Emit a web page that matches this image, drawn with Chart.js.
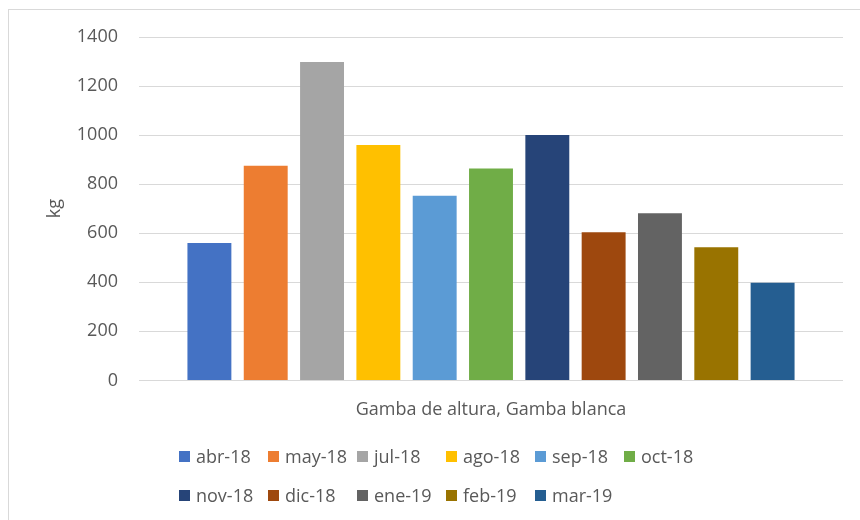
<!DOCTYPE html>
<html>
<head>
<meta charset="utf-8">
<script src="https://cdn.jsdelivr.net/npm/chart.js@4.4.1/dist/chart.umd.min.js"></script>
<style>
  html, body { margin: 0; padding: 0; background: #fff; }
  #wrap { position: relative; width: 860px; height: 520px; overflow: hidden; }
  #frame {
    position: absolute; left: 8px; top: 9px; width: 900px; height: 600px;
    border-left: 1px solid #d9d9d9; border-top: 1px solid #d9d9d9;
  }
  canvas { position: absolute; left: 0; top: 0; }
  #legend {
    position: absolute; left: 0; top: 0; width: 860px; height: 520px;
    font: 18px "Open Sans", sans-serif; color: #595959;
  }
  .item { position: absolute; display: flex; align-items: center; white-space: nowrap; height: 24px; }
  .box { width: 11px; height: 11px; margin-right: 6px; flex: none; }
</style>
</head>
<body>
<div id="wrap">
  <div id="frame"></div>
  <canvas id="chart" width="860" height="520"></canvas>
  <div id="legend"></div>
</div>
<script>
/* ======================================================
   DATOS
====================================================== */

const categories = ['Gamba de altura, Gamba blanca'];

const months = [
  'abr-18', 'may-18', 'jul-18', 'ago-18', 'sep-18', 'oct-18',
  'nov-18', 'dic-18', 'ene-19', 'feb-19', 'mar-19'
];

const kg = [560, 875, 1298, 960, 753, 864, 1000, 604, 681, 543, 398];

const colors = [
  '#4472C4', '#ED7D31', '#A5A5A5', '#FFC000', '#5B9BD5', '#70AD47',
  '#264478', '#9E480E', '#636363', '#997300', '#255E91'
];

const yTicks = [0, 200, 400, 600, 800, 1000, 1200, 1400];

const legendRows = [6, 5];

/* ======================================================
   CHART
====================================================== */

const TEXT = '#595959';
const GRID = '#d9d9d9';
const FONT = { family: '"Open Sans", sans-serif', size: 18 };

const datasets = months.map((m, i) => ({
  label: m,
  data: [kg[i]],
  backgroundColor: colors[i],
  borderWidth: 0,
  categoryPercentage: 0.88,
  barPercentage: 0.78
}));

new Chart(document.getElementById('chart'), {
  type: 'bar',
  data: { labels: categories, datasets },
  options: {
    responsive: false,
    animation: false,
    layout: { padding: { top: 37, right: 17, bottom: 80, left: 0 } },
    plugins: {
      legend: { display: false },
      tooltip: { enabled: false }
    },
    scales: {
      x: {
        grid: { display: false, drawTicks: false },
        border: { display: false },
        ticks: { color: TEXT, font: FONT, padding: 19 }
      },
      y: {
        min: 0,
        max: 1400,
        afterBuildTicks: s => { s.ticks = yTicks.map(v => ({ value: v })); },
        afterFit: s => { s.width = 139; },
        grid: { color: GRID, lineWidth: 1, drawTicks: false },
        border: { display: false },
        ticks: { color: TEXT, font: FONT, padding: 21, callback: v => String(v) },
        title: {
          display: true,
          text: 'kg',
          color: TEXT,
          font: FONT,
          padding: { top: 44, bottom: 0 }
        }
      }
    }
  }
});

/* ======================================================
   LEYENDA (dos filas, como en el original)
====================================================== */

const legendCols = [179, 268, 357, 446, 535, 624];
const legendTop = [444, 483];

const legend = document.getElementById('legend');
let k = 0;
legendRows.forEach((n, r) => {
  for (let j = 0; j < n; j++, k++) {
    const item = document.createElement('div');
    item.className = 'item';
    item.style.left = legendCols[j] + 'px';
    item.style.top = legendTop[r] + 'px';
    item.innerHTML = `<span class="box" style="background:${colors[k]}"></span>${months[k]}`;
    legend.appendChild(item);
  }
});
</script>
</body>
</html>
